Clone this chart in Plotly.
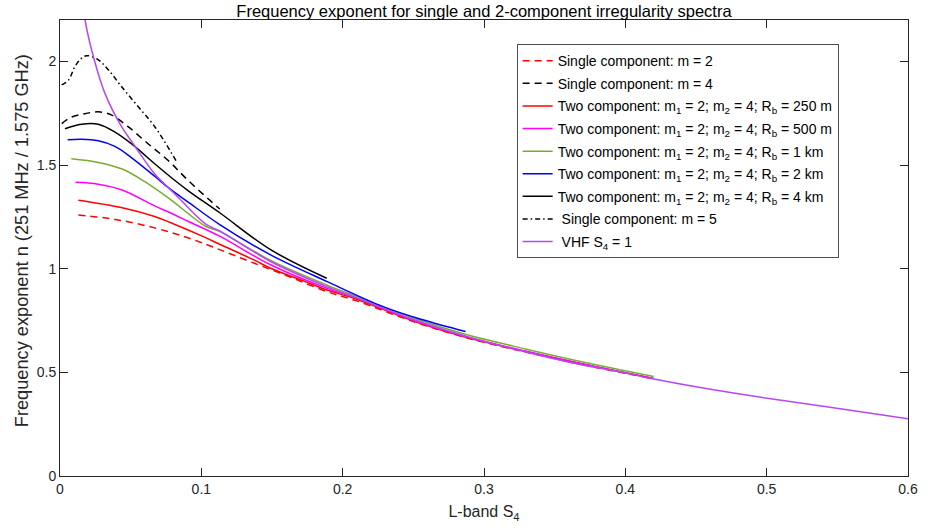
import plotly.graph_objects as go

# ---- data ----
m2_x = [0.013, 0.039, 0.067, 0.091, 0.113, 0.138, 0.162, 0.189, 0.21, 0.25, 0.286, 0.33, 0.37, 0.42]
m2_y = [1.259, 1.238, 1.197, 1.148, 1.092, 1.025, 0.962, 0.889, 0.845, 0.745, 0.67, 0.597, 0.537, 0.468]

m4_x = [0.0012, 0.0083, 0.0177, 0.0271, 0.0366, 0.0484, 0.0625, 0.0766, 0.0908, 0.113]
m4_y = [1.70, 1.732, 1.748, 1.757, 1.741, 1.684, 1.602, 1.522, 1.425, 1.288]

rb250_x = [0.013, 0.044, 0.067, 0.078, 0.103, 0.113, 0.138, 0.149, 0.173, 0.189, 0.21, 0.25, 0.286, 0.33, 0.37, 0.42]
rb250_y = [1.33, 1.294, 1.252, 1.223, 1.15, 1.118, 1.04, 1.002, 0.939, 0.897, 0.853, 0.748, 0.672, 0.6, 0.54, 0.47]

rb500_x = [0.011, 0.027, 0.044, 0.067, 0.078, 0.091, 0.113, 0.149, 0.189, 0.21, 0.25, 0.286, 0.33, 0.37, 0.42]
rb500_y = [1.417, 1.408, 1.38, 1.303, 1.27, 1.228, 1.157, 1.019, 0.905, 0.858, 0.751, 0.674, 0.602, 0.541, 0.471]

rb1k_x = [0.008, 0.027, 0.044, 0.060, 0.078, 0.103, 0.113, 0.149, 0.189, 0.21, 0.25, 0.286, 0.33, 0.37, 0.42]
rb1k_y = [1.53, 1.513, 1.481, 1.42, 1.335, 1.205, 1.18, 1.04, 0.921, 0.866, 0.762, 0.685, 0.612, 0.55, 0.48]

rb2k_x = [0.0054, 0.0153, 0.0271, 0.0389, 0.0507, 0.0672, 0.0778, 0.09, 0.113, 0.149, 0.189, 0.229, 0.256, 0.287]
rb2k_y = [1.622, 1.625, 1.617, 1.59, 1.535, 1.445, 1.385, 1.325, 1.213, 1.067, 0.938, 0.816, 0.755, 0.697]

rb4k_x = [0.0035, 0.0153, 0.0271, 0.0389, 0.0507, 0.0672, 0.0778, 0.0908, 0.113, 0.149, 0.1887]
rb4k_y = [1.675, 1.697, 1.697, 1.659, 1.602, 1.505, 1.445, 1.376, 1.27, 1.092, 0.954]

m5_x = [0.0012, 0.006, 0.0106, 0.0153, 0.0189, 0.0271, 0.0342, 0.0436, 0.0554, 0.0672, 0.0822]
m5_y = [1.887, 1.91, 1.976, 2.016, 2.028, 2.008, 1.96, 1.878, 1.781, 1.684, 1.52]

vhf_x = [0.0155, 0.0177, 0.0236, 0.0318, 0.0437, 0.0519, 0.0672, 0.0778, 0.0837, 0.1026, 0.113, 0.149,
         0.189, 0.209, 0.25, 0.286, 0.3255, 0.361, 0.396, 0.4175, 0.453, 0.495, 0.54, 0.6]
vhf_y = [2.32, 2.20, 2.024, 1.846, 1.684, 1.602, 1.456, 1.384, 1.344, 1.218, 1.182, 1.035,
         0.913, 0.862, 0.755, 0.677, 0.605, 0.548, 0.503, 0.472, 0.427, 0.381, 0.337, 0.276]

x_ticks = [0, 0.1, 0.2, 0.3, 0.4, 0.5, 0.6]
y_ticks = [0, 0.5, 1, 1.5, 2]

FONT = "Liberation Sans, Arial, Helvetica, sans-serif"

series = [
    (m2_x, m2_y, "Single component: m = 2", "#FF0000", "7px,5px"),
    (m4_x, m4_y, "Single component: m = 4", "#000000", "7px,5px"),
    (rb250_x, rb250_y, "Two component: m<sub>1</sub> = 2; m<sub>2</sub> = 4; R<sub>b</sub> = 250 m", "#FF0000", "solid"),
    (rb500_x, rb500_y, "Two component: m<sub>1</sub> = 2; m<sub>2</sub> = 4; R<sub>b</sub> = 500 m", "#FF00FF", "solid"),
    (rb1k_x, rb1k_y, "Two component: m<sub>1</sub> = 2; m<sub>2</sub> = 4; R<sub>b</sub> = 1 km", "#77AC30", "solid"),
    (rb2k_x, rb2k_y, "Two component: m<sub>1</sub> = 2; m<sub>2</sub> = 4; R<sub>b</sub> = 2 km", "#0000FF", "solid"),
    (rb4k_x, rb4k_y, "Two component: m<sub>1</sub> = 2; m<sub>2</sub> = 4; R<sub>b</sub> = 4 km", "#000000", "solid"),
    (m5_x, m5_y, " Single component: m = 5", "#000000", "5px,3px,1.5px,3px"),
    (vhf_x, vhf_y, " VHF S<sub>4</sub> = 1", "#B946F0", "solid"),
]

fig = go.Figure()
for i, (xs, ys, name, color, dash) in enumerate(series):
    fig.add_trace(go.Scatter(
        x=xs, y=ys, mode="lines", name=name, legendgroup=f"g{i}",
        line=dict(color=color, width=1.5, dash=dash, shape="spline", smoothing=1.0),
    ))

axis_common = dict(
    showline=True, linecolor="#262626", linewidth=1, mirror="ticks",
    ticks="inside", ticklen=8, tickcolor="#262626", tickwidth=1,
    showgrid=False, zeroline=False, automargin=False,
    tickfont=dict(family=FONT, size=14, color="#262626"),
)

fig.update_layout(
    width=930, height=529,
    margin=dict(l=60, r=22, t=20, b=53),
    paper_bgcolor="white", plot_bgcolor="white",
    font=dict(family=FONT, color="#262626"),
    title=dict(text="Frequency exponent for single and 2-component irregularity spectra",
               x=0.5204, xanchor="center", y=0.9792, yanchor="middle", pad=dict(t=0, b=0),
               font=dict(family=FONT, size=16.5, color="#000000")),
    xaxis=dict(range=[0, 0.6], tickvals=x_ticks,
               title=dict(text="L-band S<sub>4</sub>", font=dict(family=FONT, size=16, color="#262626"), standoff=10),
               **axis_common),
    yaxis=dict(range=[0, 2.2], tickvals=y_ticks, **axis_common),
    legend=dict(x=0.5385, y=0.947, xanchor="left", yanchor="top",
                bgcolor="white", bordercolor="#4d4d4d", borderwidth=1,
                font=dict(family=FONT, size=14, color="#000000"),
                tracegroupgap=1.4, itemwidth=30, traceorder="grouped"),
    showlegend=True,
    annotations=[dict(
        text="Frequency exponent n (251 MHz / 1.575 GHz)",
        xref="paper", yref="paper", x=-0.0448, y=0.515,
        xanchor="center", yanchor="middle", textangle=-90, showarrow=False,
        font=dict(family=FONT, size=18.2, color="#262626"),
    )],
)

fig.write_html("out.html", config={"displayModeBar": False},
               post_script="document.body.style.margin='0';document.body.style.padding='0';")
